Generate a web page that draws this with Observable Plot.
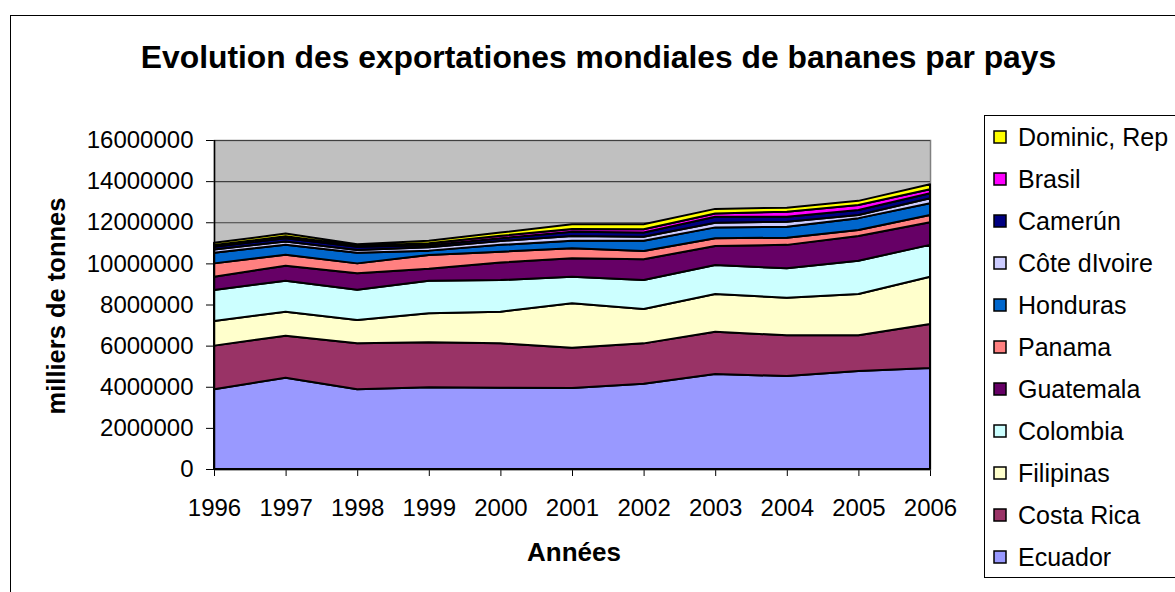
<!DOCTYPE html>
<html>
<head>
<meta charset="utf-8">
<script src="https://cdn.jsdelivr.net/npm/d3@7"></script>
<script src="https://cdn.jsdelivr.net/npm/@observablehq/plot@0.6"></script>
<style>
html, body { margin: 0; padding: 0; background: #fff; overflow: hidden; }
#chart { position: relative; width: 1175px; height: 592px; }
#border { position: absolute; left: 10px; top: 15px; width: 1200px; height: 620px; border: 1px solid #000; box-sizing: border-box; }
#chart svg { position: absolute; left: 0; top: 0; }
</style>
</head>
<body>
<div id="chart"><div id="border"></div></div>
<script>
const years = [1996, 1997, 1998, 1999, 2000, 2001, 2002, 2003, 2004, 2005, 2006];
const yearLabels = ["1996", "1997", "1998", "1999", "2000", "2001", "2002", "2003", "2004", "2005", "2006"];
const yTicks = [0, 2000000, 4000000, 6000000, 8000000, 10000000, 12000000, 14000000, 16000000];

// stacking order, bottom to top
const countries = ["Ecuador", "Costa Rica", "Filipinas", "Colombia", "Guatemala", "Panama", "Honduras", "Côte dIvoire", "Camerún", "Brasil", "Dominic, Rep"];
const colors = ["#9999FF", "#993366", "#FFFFCC", "#CCFFFF", "#660066", "#FF8080", "#0066CC", "#CCCCFF", "#000080", "#FF00FF", "#FFFF00"];

const ecuador     = [3880000, 4440000, 3880000, 3970000, 3950000, 3940000, 4150000, 4620000, 4520000, 4770000, 4910000];
const costaRica   = [2120000, 2040000, 2230000, 2190000, 2160000, 1960000, 1960000, 2060000, 1980000, 1730000, 2140000];
const filipinas   = [1200000, 1170000, 1140000, 1410000, 1540000, 2160000, 1670000, 1830000, 1830000, 2010000, 2300000];
const colombia    = [1510000, 1510000, 1470000, 1590000, 1540000, 1290000, 1410000, 1410000, 1430000, 1620000, 1550000];
const guatemala   = [640000, 730000, 800000, 580000, 850000, 900000, 1010000, 930000, 1140000, 1200000, 1100000];
const panama      = [650000, 530000, 480000, 670000, 530000, 480000, 400000, 370000, 350000, 290000, 350000];
const honduras    = [520000, 480000, 520000, 210000, 330000, 370000, 500000, 530000, 530000, 580000, 570000];
const coteDIvoire = [160000, 160000, 130000, 160000, 190000, 230000, 200000, 230000, 250000, 150000, 250000];
const camerun     = [130000, 160000, 160000, 100000, 130000, 210000, 200000, 290000, 240000, 250000, 240000];
const brasil      = [80000, 100000, 50000, 100000, 120000, 130000, 160000, 160000, 240000, 240000, 190000];
const dominicRep  = [110000, 130000, 70000, 120000, 160000, 230000, 240000, 220000, 200000, 200000, 250000];

const series = [ecuador, costaRica, filipinas, colombia, guatemala, panama, honduras, coteDIvoire, camerun, brasil, dominicRep];

const title = "Evolution des exportationes mondiales de bananes par pays";
const yTitle = "milliers de tonnes";
const xTitle = "Années";
// legend order, top to bottom
const legendOrder = countries.slice().reverse();

const table = [];
series.forEach((vals, i) => vals.forEach((v, j) => table.push({country: countries[i], year: years[j], value: v})));

const FONT = "'Liberation Sans', Arial, Helvetica, sans-serif";

const plot = Plot.plot({
  width: 1175,
  height: 592,
  marginLeft: 214,
  marginRight: 245,
  marginTop: 140,
  marginBottom: 123,
  style: {fontFamily: FONT, fontSize: "24px", color: "#000", background: "transparent", overflow: "visible"},
  x: {domain: [1996, 2006], ticks: years, tickFormat: d => yearLabels[years.indexOf(d)], tickSize: 7, tickPadding: 22, label: null},
  y: {domain: [0, 16000000], ticks: yTicks, tickFormat: d => String(d), tickSize: 8, tickPadding: 13, label: null},
  color: {domain: countries, range: colors},
  marks: [
    Plot.frame({fill: "#C0C0C0", stroke: "#808080", strokeWidth: 1.5}),
    Plot.gridY(yTicks, {stroke: "#404040", strokeOpacity: 1, strokeWidth: 1.2}),
    Plot.areaY(table, {x: "year", y: "value", z: "country", fill: "country", order: countries, stroke: "#000", strokeWidth: 2, strokeLinejoin: "round"}),
    Plot.ruleY([0], {stroke: "#000", strokeWidth: 1.5}),
    Plot.ruleX([1996], {stroke: "#000", strokeWidth: 1.5})
  ]
});

const svg = d3.select(plot);

svg.append("text")
  .attr("x", 598.5).attr("y", 68)
  .attr("text-anchor", "middle")
  .attr("font-family", FONT).attr("font-weight", "bold").attr("font-size", 31.8)
  .attr("fill", "#000")
  .text(title);

svg.append("text")
  .attr("transform", "translate(65,306) rotate(-90)")
  .attr("text-anchor", "middle")
  .attr("font-family", FONT).attr("font-weight", "bold").attr("font-size", 25.5)
  .attr("fill", "#000")
  .text(yTitle);

svg.append("text")
  .attr("x", 574).attr("y", 561)
  .attr("text-anchor", "middle")
  .attr("font-family", FONT).attr("font-weight", "bold").attr("font-size", 26)
  .attr("fill", "#000")
  .text(xTitle);

const lg = svg.append("g").attr("text-anchor", "start");
lg.append("rect")
  .attr("x", 984.5).attr("y", 115.5).attr("width", 300).attr("height", 462)
  .attr("fill", "#fff").attr("stroke", "#000").attr("stroke-width", 1);
legendOrder.forEach((c, i) => {
  const cy = 137 + i * 42;
  lg.append("rect")
    .attr("x", 994).attr("y", cy - 6).attr("width", 12).attr("height", 12)
    .attr("fill", colors[countries.indexOf(c)]).attr("stroke", "#000").attr("stroke-width", 1.5);
  lg.append("text")
    .attr("x", 1018).attr("y", cy + 8.5)
    .attr("text-anchor", "start")
    .attr("font-family", FONT).attr("font-size", 25)
    .attr("fill", "#000")
    .text(c);
});

document.getElementById("chart").appendChild(plot);
</script>
</body>
</html>
